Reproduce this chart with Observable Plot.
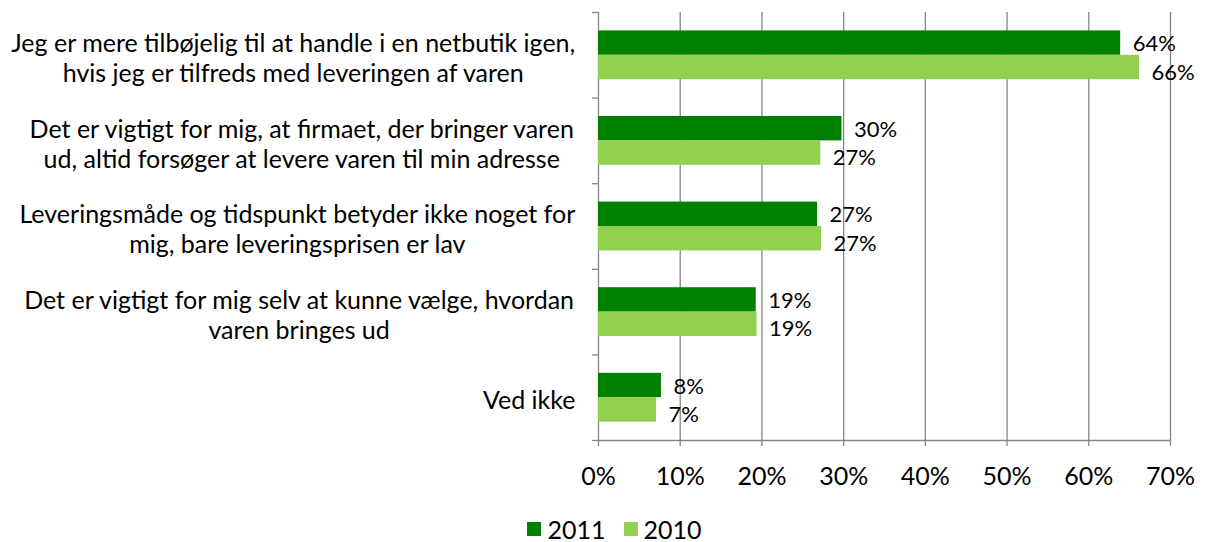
<!DOCTYPE html>
<html><head><meta charset="utf-8">
<script src="https://cdn.jsdelivr.net/npm/d3@7"></script>
<script src="https://cdn.jsdelivr.net/npm/@observablehq/plot@0.6"></script>
<style>
body{margin:0;background:#fff;font-family:Lato,sans-serif;color:#000;}
#legend{display:flex;justify-content:center;align-items:center;font-size:25px;line-height:28px;margin-top:20px;padding-left:20px;}
#legend .item{display:flex;align-items:center;margin:0 9px;}
#legend .sw{width:14px;height:14px;margin-right:6px;display:inline-block;}
</style></head><body><div id="chart"></div><div id="legend"></div>
<script>
const categories = [
  "Jeg er mere tilbøjelig til at handle i en netbutik igen,\nhvis jeg er tilfreds med leveringen af varen",
  "Det er vigtigt for mig, at firmaet, der bringer varen\nud, altid forsøger at levere varen til min adresse",
  "Leveringsmåde og tidspunkt betyder ikke noget for\nmig, bare leveringsprisen er lav",
  "Det er vigtigt for mig selv at kunne vælge, hvordan\nvaren bringes ud",
  "Ved ikke"
];
const series = ["2011", "2010"];
const colors = ["#008000", "#92D050"];
const values2011 = [0.639, 0.298, 0.268, 0.193, 0.077];
const values2010 = [0.662, 0.272, 0.273, 0.194, 0.071];
const xTicks = [0, 0.1, 0.2, 0.3, 0.4, 0.5, 0.6, 0.7];

const rows = [];
categories.forEach((c, i) => {
  rows.push({i, cat: c, year: series[0], value: values2011[i]});
  rows.push({i, cat: c, year: series[1], value: values2010[i]});
});
const BAR = 0.285;
const yPos = d => d.year === series[0] ? d.i - BAR / 2 : d.i + BAR / 2;
const fontSize = 25;
const catSize = 25;
const ctx = document.createElement("canvas").getContext("2d");
ctx.font = catSize + "px Lato";
const labelMarks = categories.map((c, i) => {
  const w = Math.max(...c.split("\n").map(s => ctx.measureText(s).width));
  return Plot.text([{c, i}], {text: "c", y: "i", frameAnchor: "left", textAnchor: "middle",
    dx: -(23 + w / 2), dy: 2, lineHeight: 1.2, fontSize: catSize, fill: "#000"});
});
const grid = "#868686";
const fmt = d3.format(".0%");
const chart = Plot.plot({
  width: 1209, height: 495,
  marginLeft: 598, marginRight: 39, marginTop: 12, marginBottom: 55,
  style: {fontFamily: "Lato, sans-serif", fontSize: fontSize + "px", color: "#000", background: "#fff"},
  x: {type: "linear", domain: [0, 0.7], label: null},
  y: {type: "linear", domain: [-0.5, 4.5], reverse: true, label: null},
  marks: [
    Plot.ruleX(xTicks, {stroke: grid, strokeWidth: 1.3}),
    Plot.ruleY([4.5], {stroke: grid, strokeWidth: 1.3}),
    Plot.axisY({ticks: d3.range(-0.5, 5, 1), tickSize: 6, tickFormat: () => "", stroke: grid, strokeWidth: 1.3, label: null}),
    Plot.axisX({ticks: xTicks, tickSize: 6, tickPadding: 21, tickFormat: fmt, stroke: grid, strokeWidth: 1.3, fill: "#000", label: null}),
    Plot.rectX(rows, {x1: 0, x2: "value",
      y1: d => d.year === series[0] ? d.i - BAR : d.i,
      y2: d => d.year === series[0] ? d.i : d.i + BAR,
      fill: d => colors[series.indexOf(d.year)]}),
    Plot.text(rows.filter(d => d.year === series[0]), {x: "value", y: yPos, text: d => fmt(d.value), textAnchor: "start", dx: 12, dy: 1, fontSize: 22, fill: "#000"}),
    Plot.text(rows.filter(d => d.year === series[1]), {x: "value", y: yPos, text: d => fmt(d.value), textAnchor: "start", dx: 12, dy: 5, fontSize: 22, fill: "#000"}),
    ...labelMarks
  ]
});
document.getElementById("chart").appendChild(chart);
const legend = document.getElementById("legend");
series.forEach((s, k) => {
  const it = document.createElement("span"); it.className = "item";
  const sw = document.createElement("span"); sw.className = "sw"; sw.style.background = colors[k];
  it.appendChild(sw); it.appendChild(document.createTextNode(s));
  legend.appendChild(it);
});
</script></body></html>
